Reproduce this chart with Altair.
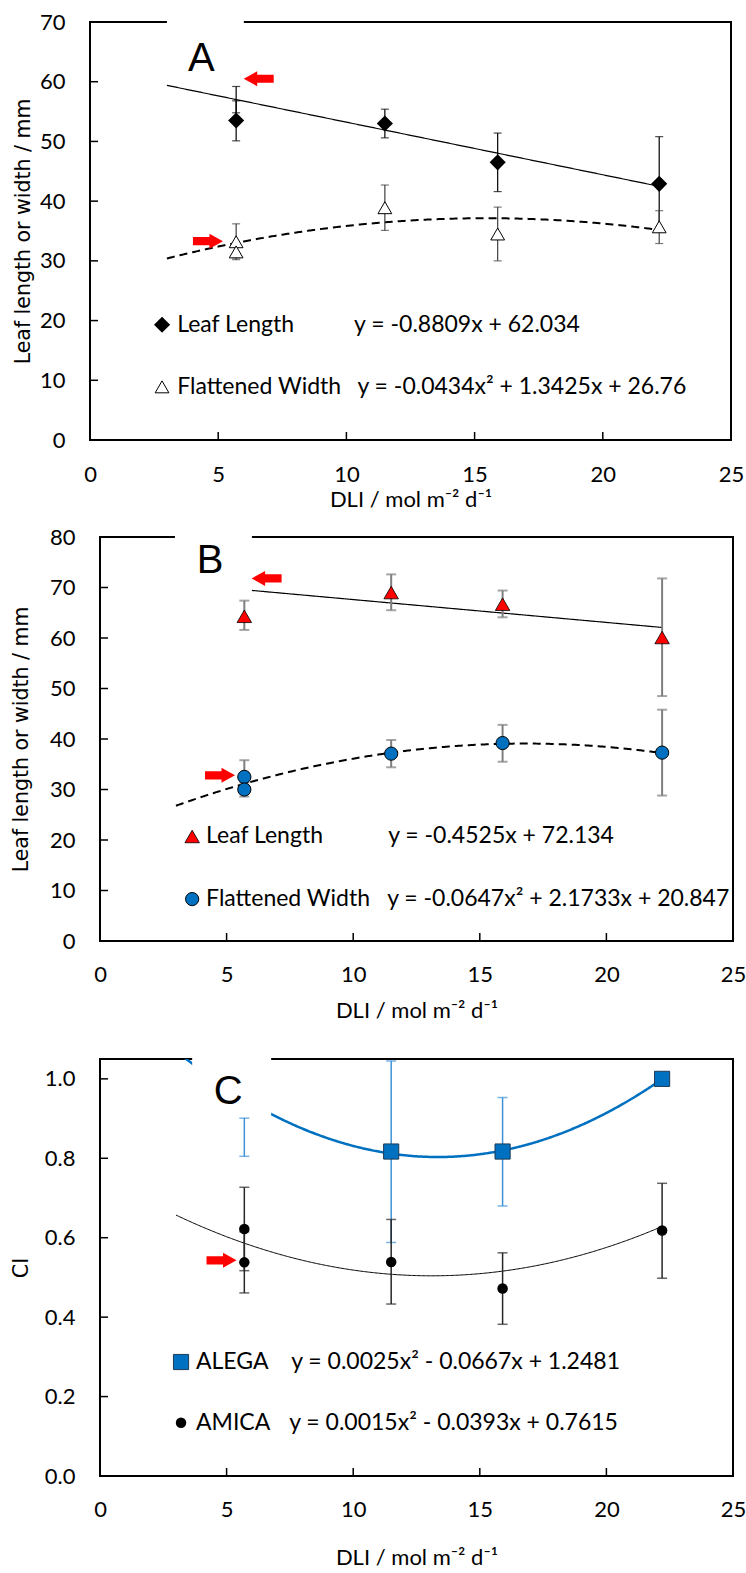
import altair as alt
import pandas as pd

# ---------------- data ----------------
# Panel A: leaf length (diamonds) and flattened width (open triangles)
a_len_x = [5.7, 11.5, 15.9, 22.2]
a_len_y = [53.5, 53.0, 46.5, 42.9]
a_len_bar_x = [5.7, 5.7, 11.5, 15.9, 22.2]
a_len_lo = [50.1, 54.8, 50.6, 41.6, 35.0]
a_len_hi = [56.8, 59.2, 55.4, 51.4, 50.8]
a_wid_x = [5.7, 5.7, 11.5, 15.9, 22.2]
a_wid_y = [33.2, 31.5, 38.9, 34.5, 35.7]
a_wid_lo = [30.2, 30.5, 35.1, 30.0, 32.9]
a_wid_hi = [36.2, 32.5, 42.7, 39.0, 38.4]
a_len_fit = [0.0, -0.8809, 62.034]
a_wid_fit = [-0.0434, 1.3425, 26.76]

# Panel B: leaf length (red triangles) and flattened width (blue circles)
b_len_x = [5.7, 11.5, 15.9, 22.2]
b_len_y = [64.3, 69.0, 66.7, 60.1]
b_len_lo = [61.6, 65.5, 64.1, 48.5]
b_len_hi = [67.4, 72.6, 69.4, 71.8]
b_wid_x = [5.7, 5.7, 11.5, 15.9, 22.2]
b_wid_y = [32.5, 30.0, 37.1, 39.2, 37.3]
b_wid_lo = [29.2, 28.6, 34.4, 35.5, 28.8]
b_wid_hi = [35.8, 31.4, 39.8, 42.8, 45.8]
b_len_fit = [0.0, -0.4525, 72.134]
b_wid_fit = [-0.0647, 2.1733, 20.847]

# Panel C: CI of ALEGA (squares) and AMICA (dots)
c_ale_x = [11.5, 15.9, 22.2]
c_ale_y = [0.817, 0.817, 1.0]
c_ale_bar_x = [5.7, 11.5, 15.9]
c_ale_lo = [0.805, 0.588, 0.680]
c_ale_hi = [0.901, 1.045, 0.953]
c_ami_x = [5.7, 5.7, 11.5, 15.9, 22.2]
c_ami_y = [0.622, 0.538, 0.539, 0.472, 0.618]
c_ami_lo = [0.517, 0.461, 0.433, 0.382, 0.498]
c_ami_hi = [0.727, 0.615, 0.646, 0.562, 0.737]
c_ale_fit = [0.0025, -0.0667, 1.2481]
c_ami_fit = [0.0015, -0.0393, 0.7615]

x_ticks = [0, 5, 10, 15, 20, 25]
x_title = "DLI / mol m\u207b\u00b2 d\u207b\u00b9"

# ---------------- style ----------------
FONT = "Lato"
YFONT = "DejaVu Sans"
LBL = 22
LEG = 23
BLUE = "#0070C0"
RIGHT_ARROW = "M-1,-0.27L0.1,-0.27L0.1,-0.5L1,0L0.1,0.5L0.1,0.27L-1,0.27Z"
LEFT_ARROW = "M1,-0.27L-0.1,-0.27L-0.1,-0.5L-1,0L-0.1,0.5L-0.1,0.27L1,0.27Z"


def df(**cols):
    return pd.DataFrame(cols)


def panel(p):
    W, H, X0 = p["w"], p["h"], p["x0"]
    xsc = alt.Scale(domain=[0, 25], nice=False, zero=False, range=[X0, W])
    ysc = alt.Scale(domain=p["ydom"], nice=False, zero=False)
    xax = alt.Axis(values=x_ticks, title=x_title, grid=False, domain=False, ticks=False,
                   tickSize=0, labelFont=FONT, labelFontSize=LBL, labelColor="black",
                   labelPadding=p["xlp"], labelFlush=False, labelAngle=0,
                   titleFont=FONT, titleFontSize=LBL, titleFontWeight="normal",
                   titleColor="black", titlePadding=p["xtp"])
    yax = alt.Axis(values=p["yticks"], format=p["yfmt"], title=p["ytitle"], grid=False,
                   domain=False, ticks=False, tickSize=0, labelFont=FONT,
                   labelFontSize=LBL, labelColor="black", labelPadding=25 - X0,
                   labelFlush=False, titleFont=YFONT, titleFontSize=20.5,
                   titleFontWeight="normal", titleColor="black", titlePadding=p["ytp"])

    def X(f):
        return alt.X(f, type="quantitative", scale=xsc, axis=xax)

    def Y(f):
        return alt.Y(f, type="quantitative", scale=ysc, axis=yax)

    one = alt.Data(values=[{"k": 0}])
    layers = []
    # plot frame
    rule = dict(color="black", strokeWidth=2, strokeCap="square")
    layers.append(alt.Chart(one).mark_rule(**rule).encode(x=alt.value(X0), x2=alt.value(W), y=alt.value(0)))
    layers.append(alt.Chart(one).mark_rule(**rule).encode(x=alt.value(X0), x2=alt.value(W), y=alt.value(H)))
    layers.append(alt.Chart(one).mark_rule(**rule).encode(x=alt.value(X0), y=alt.value(0), y2=alt.value(H)))
    layers.append(alt.Chart(one).mark_rule(**rule).encode(x=alt.value(W), y=alt.value(0), y2=alt.value(H)))
    # inward tick marks
    inner_y = [t for t in p["yticks"] if p["ydom"][0] < t < p["ydom"][1]]
    layers.append(alt.Chart(df(v=inner_y)).mark_rule(color="black", strokeWidth=1.5)
                  .encode(y=Y("v"), x=alt.value(X0), x2=alt.value(X0 + 8)))
    layers.append(alt.Chart(df(v=[5, 10, 15, 20])).mark_rule(color="black", strokeWidth=1.5)
                  .encode(x=X("v"), y=alt.value(H), y2=alt.value(H - 8)))

    # fitted trend curves from the printed equations
    for coef, x0, x1, style in p["fits"]:
        a, b, c = coef
        layers.append(
            alt.Chart(alt.sequence(x0, x1 + 0.01, 0.05, as_="x"))
            .transform_calculate(y=f"{a}*datum.x*datum.x + {b}*datum.x + {c}")
            .mark_line(clip=True, **style)
            .encode(x=X("x"), y=Y("y"))
        )

    # error bars and markers
    for bx, lo, hi, color, cap, width in p["bars"]:
        d = df(x=bx, lo=lo, hi=hi)
        layers.append(alt.Chart(d).mark_rule(color=color, strokeWidth=width)
                      .encode(x=X("x"), y=Y("lo"), y2="hi"))
        for end in ("lo", "hi"):
            layers.append(alt.Chart(d).mark_tick(orient="horizontal", color=color, size=cap,
                                                 thickness=width)
                          .encode(x=X("x"), y=Y(end)))
    for mx, my, style in p["marks"]:
        layers.append(alt.Chart(df(x=mx, y=my)).mark_point(opacity=1, **style)
                      .encode(x=X("x"), y=Y("y")))

    # in-plot legend
    for lx, ly, style in p["legmarks"]:
        layers.append(alt.Chart(df(x=[lx], y=[ly])).mark_point(opacity=1, **style)
                      .encode(x=X("x"), y=Y("y")))
    leg = df(x=[t[0] for t in p["legtext"]], y=[t[1] for t in p["legtext"]],
             t=[t[2] for t in p["legtext"]])
    layers.append(alt.Chart(leg).mark_text(align="left", baseline="middle", font=FONT,
                                           fontSize=LEG, color="black")
                  .encode(x=X("x"), y=Y("y"), text="t:N"))

    # white label box and panel letter
    bx0, bx1, by0, by1 = p["box"]
    layers.append(alt.Chart(df(x=[bx0], x2=[bx1], y=[by0], y2=[by1])).mark_rect(color="white")
                  .encode(x=X("x"), x2="x2", y=Y("y"), y2="y2"))
    lx, ly, letter = p["letter"]
    layers.append(alt.Chart(df(x=[lx], y=[ly], t=[letter])).mark_text(
        font="Liberation Sans", fontSize=40, align="center", baseline="alphabetic", color="black")
        .encode(x=X("x"), y=Y("y"), text="t:N"))

    # red arrows
    for ax, ay, path in p["arrows"]:
        layers.append(alt.Chart(df(x=[ax], y=[ay])).mark_point(
            shape=path, size=900, filled=True, color="#FF0000", opacity=1, strokeWidth=0)
            .encode(x=X("x"), y=Y("y")))

    return alt.layer(*layers).properties(width=W, height=H)


solid = dict(color="black", strokeWidth=1.2)
dashed = dict(color="black", strokeWidth=2, strokeDash=[8, 5])

panel_a = panel(dict(
    w=641, h=418, x0=0, ydom=[0, 70], yticks=[0, 10, 20, 30, 40, 50, 60, 70], yfmt="d",
    ytitle="Leaf length or width / mm", xlp=24, xtp=4, ytp=6,
    fits=[(a_len_fit, 3.0, 22.2, solid), (a_wid_fit, 3.0, 22.2, dashed)],
    bars=[(a_len_bar_x, a_len_lo, a_len_hi, "black", 8, 1.2),
          (a_wid_x, a_wid_lo, a_wid_hi, "#404040", 8, 1.2)],
    marks=[(a_len_x, a_len_y, dict(shape="diamond", size=260, filled=True, color="black")),
           (a_wid_x, a_wid_y, dict(shape="triangle-up", size=190, filled=True, fill="white",
                                   stroke="black", strokeWidth=1))],
    legmarks=[(2.81, 19.3, dict(shape="diamond", size=260, filled=True, color="black")),
              (2.81, 8.9, dict(shape="triangle-up", size=190, filled=True, fill="white",
                               stroke="black", strokeWidth=1))],
    legtext=[(3.4, 19.3, "Leaf Length"), (10.3, 19.3, "y = -0.8809x + 62.034"),
             (3.4, 8.9, "Flattened Width"), (10.43, 8.9, "y = -0.0434x\u00b2 + 1.3425x + 26.76")],
    box=(3.0, 6.0, 62, 71.2),
    letter=(4.34, 61.8, "A"),
    arrows=[(6.58, 60.5, LEFT_ARROW), (4.6, 33.3, RIGHT_ARROW)],
))

panel_b = panel(dict(
    w=643, h=404, x0=10, ydom=[0, 80], yticks=[0, 10, 20, 30, 40, 50, 60, 70, 80], yfmt="d",
    ytitle="Leaf length or width / mm", xlp=23, xtp=15, ytp=18,
    fits=[(b_len_fit, 6.0, 22.2, solid), (b_wid_fit, 3.0, 22.2, dashed)],
    bars=[(b_len_x, b_len_lo, b_len_hi, "#7F7F7F", 10, 2),
          (b_wid_x, b_wid_lo, b_wid_hi, "#7F7F7F", 10, 2)],
    marks=[(b_len_x, b_len_y, dict(shape="triangle-up", size=210, filled=True, fill="#FF0000",
                                   stroke="black", strokeWidth=0.8)),
           (b_wid_x, b_wid_y, dict(shape="circle", size=175, filled=True, fill=BLUE,
                                   stroke="black", strokeWidth=1))],
    legmarks=[(3.64, 20.7, dict(shape="triangle-up", size=210, filled=True, fill="#FF0000",
                                stroke="black", strokeWidth=0.8)),
              (3.64, 8.3, dict(shape="circle", size=175, filled=True, fill=BLUE,
                               stroke="black", strokeWidth=1))],
    legtext=[(4.19, 20.7, "Leaf Length"), (11.38, 20.7, "y = -0.4525x + 72.134"),
             (4.19, 8.3, "Flattened Width"), (11.34, 8.3, "y = -0.0647x\u00b2 + 2.1733x + 20.847")],
    box=(2.96, 6.0, 74, 83.2),
    letter=(4.35, 72.8, "B"),
    arrows=[(6.58, 71.8, LEFT_ARROW), (4.74, 32.8, RIGHT_ARROW)],
))

panel_c = panel(dict(
    w=643, h=417, x0=10, ydom=[0, 1.05], yticks=[0, 0.2, 0.4, 0.6, 0.8, 1.0], yfmt=".1f",
    ytitle="CI", xlp=23, xtp=27, ytp=13,
    fits=[(c_ale_fit, 3.0, 22.2, dict(color=BLUE, strokeWidth=2.5)),
          (c_ami_fit, 3.0, 22.2, dict(color="black", strokeWidth=1))],
    bars=[(c_ale_bar_x, c_ale_lo, c_ale_hi, "#3F92D8", 10, 1.5),
          (c_ami_x, c_ami_lo, c_ami_hi, "#262626", 10, 1.5)],
    marks=[(c_ale_x, c_ale_y, dict(shape="square", size=230, filled=True, fill=BLUE,
                                   stroke="#1F3B57", strokeWidth=1)),
           (c_ami_x, c_ami_y, dict(shape="circle", size=110, filled=True, color="black"))],
    legmarks=[(3.2, 0.287, dict(shape="square", size=230, filled=True, fill=BLUE,
                                stroke="#1F3B57", strokeWidth=1)),
              (3.2, 0.134, dict(shape="circle", size=110, filled=True, color="black"))],
    legtext=[(3.79, 0.287, "ALEGA"), (7.55, 0.287, "y = 0.0025x\u00b2 - 0.0667x + 1.2481"),
             (3.79, 0.134, "AMICA"), (7.47, 0.134, "y = 0.0015x\u00b2 - 0.0393x + 0.7615")],
    box=(3.64, 6.76, 0.908, 1.12),
    letter=(5.06, 0.936, "C"),
    arrows=[(4.8, 0.543, RIGHT_ARROW)],
))

chart = (
    alt.vconcat(panel_a, panel_b, panel_c, spacing=10)
    .configure_view(stroke=None)
    .properties(padding={"left": 11, "top": 11, "right": 0, "bottom": 0}, background="white")
)

chart.save("out.html", embed_options={"renderer": "svg", "actions": False})
